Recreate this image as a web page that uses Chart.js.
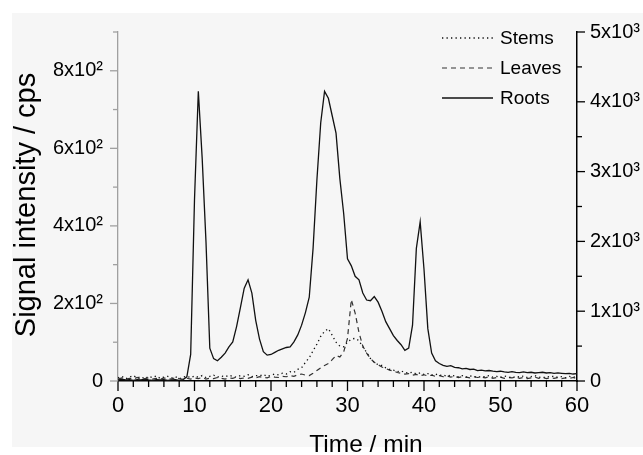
<!DOCTYPE html>
<html><head><meta charset="utf-8">
<script src="https://cdn.jsdelivr.net/npm/chart.js@4/dist/chart.umd.min.js"></script>
<style>html,body{margin:0;padding:0;background:#fff}canvas{display:block}</style>
</head><body>
<canvas id="c" width="643" height="455"></canvas>
<script>
// ---- data (time in min; Stems/Leaves on left axis, Roots on right axis) ----
const time = [0,0.5,1,1.5,2,2.5,3,3.5,4,4.5,5,5.5,6,6.5,7,7.5,8,8.5,9,9.5,
10,10.5,11,11.5,12,12.5,13,13.5,14,14.5,15,15.5,16,16.5,17,17.5,18,18.5,19,19.5,
20,20.5,21,21.5,22,22.5,23,23.5,24,24.5,25,25.5,26,26.5,27,27.5,28,28.5,29,29.5,
30,30.5,31,31.5,32,32.5,33,33.5,34,34.5,35,35.5,36,36.5,37,37.5,38,38.5,39,39.5,
40,40.5,41,41.5,42,42.5,43,43.5,44,44.5,45,45.5,46,46.5,47,47.5,48,48.5,49,49.5,
50,50.5,51,51.5,52,52.5,53,53.5,54,54.5,55,55.5,56,56.5,57,57.5,58,58.5,59,59.5,60];

const stems = [8,12,6,10,14,8,11,6,12,9,
13,7,10,12,8,11,6,10,12,9,
13,10,14,9,12,15,10,13,11,15,
12,10,14,12,16,11,14,13,17,12,
15,18,16,20,18,24,22,30,34,48,
60,78,95,115,128,135,118,100,90,88,
100,108,110,104,88,74,58,48,42,40,
34,30,28,24,26,22,20,23,18,21,
17,19,15,18,14,16,12,15,13,11,
14,10,13,12,9,12,11,14,10,12,
9,13,11,8,12,10,13,9,11,14,
10,8,12,10,13,9,11,8,12,10,11];

const leaves = [5,8,4,7,5,9,4,6,8,5,
7,4,8,6,5,9,6,4,7,5,
8,6,9,5,7,6,9,7,5,8,
7,10,6,8,7,10,8,11,9,8,
12,10,9,12,11,14,12,16,18,15,
14,20,27,34,40,45,55,66,62,75,
110,210,175,125,90,72,58,48,42,36,
32,28,26,22,20,18,19,15,17,14,
16,13,15,12,14,11,13,10,12,9,
11,10,8,11,9,10,8,11,7,9,
10,7,9,8,10,7,9,6,8,10,
7,9,6,8,7,9,6,8,7,9,6];

const roots = [20,25,15,20,10,20,15,25,15,10,
20,15,20,10,15,20,10,20,60,380,
2600,4150,3200,2000,470,320,290,340,400,490,
560,780,1050,1330,1450,1260,870,600,420,370,
380,410,440,460,480,490,560,660,800,980,
1200,1900,2880,3700,4150,4050,3800,3550,2900,2400,
1750,1650,1500,1450,1260,1160,1150,1210,1130,1000,
850,750,650,580,520,440,470,800,1900,2280,
1600,750,400,290,250,225,210,220,195,190,
175,180,165,170,150,155,145,150,140,135,
140,130,125,135,125,120,130,120,125,115,
120,125,115,120,110,115,110,105,110,100,105];

const seriesLabels = ['Stems','Leaves','Roots'];
const xTickValues = [0,10,20,30,40,50,60];
const leftTickValues = [0,200,400,600,800];
const rightTickValues = [0,1000,2000,3000,4000,5000];
const xTitle = 'Time / min';
const yTitle = 'Signal intensity / cps';

const FONT = "'Liberation Sans', Arial, sans-serif";

function pts(vals){ return time.map((t,i)=>({x:t,y:vals[i]})); }

const bgPlugin = {
  id:'bg',
  beforeDraw(chart){
    const c = chart.ctx; c.save();
    c.fillStyle = '#ffffff'; c.fillRect(0,0,chart.width,chart.height);
    c.fillStyle = '#f6f6f6'; c.fillRect(12,13,chart.width-12,chart.height-21);
    c.restore();
  }
};

const tickPlugin = {
  id:'tickmarks',
  afterDraw(chart){
    const {ctx, scales:{x,y,y2}} = chart;
    ctx.save();
    ctx.lineWidth = 1.3;
    ctx.strokeStyle = '#000';
    for (let t = x.min; t <= x.max; t += 2) {
      const px = x.getPixelForValue(t);
      const len = xTickValues.includes(t) ? 10 : 6;
      ctx.beginPath(); ctx.moveTo(px, x.top); ctx.lineTo(px, x.top + len); ctx.stroke();
    }
    ctx.strokeStyle = '#a0a0a0';
    for (let v = y.min; v <= y.max; v += 100) {
      const py = y.getPixelForValue(v);
      const len = leftTickValues.includes(v) ? 8 : 5;
      ctx.beginPath(); ctx.moveTo(y.right, py); ctx.lineTo(y.right - len, py); ctx.stroke();
    }
    ctx.strokeStyle = '#000';
    for (let v = y2.min; v <= y2.max; v += 500) {
      const py = y2.getPixelForValue(v);
      const len = rightTickValues.includes(v) ? 8 : 5;
      ctx.beginPath(); ctx.moveTo(y2.left, py); ctx.lineTo(y2.left + len, py); ctx.stroke();
    }
    ctx.restore();
  }
};

const titlePlugin = {
  id:'titles',
  afterDraw(chart){
    const ctx = chart.ctx; ctx.save();
    ctx.fillStyle = '#000';
    ctx.font = `24.5px ${FONT}`;
    ctx.textAlign = 'center'; ctx.textBaseline = 'alphabetic';
    ctx.fillText(xTitle, 366, 452);
    ctx.translate(35, 205); ctx.rotate(-Math.PI/2);
    ctx.font = `29px ${FONT}`;
    ctx.fillText(yTitle, 0, 0);
    ctx.restore();
  }
};

const legendPlugin = {
  id:'customLegend',
  afterDraw(chart){
    const ctx = chart.ctx; ctx.save();
    chart.data.datasets.forEach((ds,i)=>{
      const yy = 38 + i*30;
      ctx.strokeStyle = ds.borderColor; ctx.lineWidth = ds.borderWidth;
      ctx.setLineDash(ds.borderDash || []);
      ctx.beginPath(); ctx.moveTo(442, yy); ctx.lineTo(493, yy); ctx.stroke();
      ctx.setLineDash([]);
      ctx.fillStyle = '#000'; ctx.font = `19px ${FONT}`;
      ctx.textAlign = 'left'; ctx.textBaseline = 'middle';
      ctx.fillText(ds.label, 500, yy + 1);
    });
    ctx.restore();
  }
};

new Chart(document.getElementById('c'), {
  type:'line',
  data:{
    datasets:[
      {label:seriesLabels[0], data:pts(stems), yAxisID:'y', borderColor:'#111', borderWidth:1.3, borderDash:[1.3,3.2], pointRadius:0, fill:false},
      {label:seriesLabels[1], data:pts(leaves), yAxisID:'y', borderColor:'#333', borderWidth:1.2, borderDash:[5,4], pointRadius:0, fill:false},
      {label:seriesLabels[2], data:pts(roots), yAxisID:'y2', borderColor:'#111', borderWidth:1.3, pointRadius:0, fill:false}
    ]
  },
  options:{
    responsive:false, animation:false, devicePixelRatio:1,
    layout:{padding:{top:32,left:0,right:0,bottom:0}},
    plugins:{legend:{display:false}, tooltip:{enabled:false}},
    elements:{line:{tension:0}, point:{radius:0}},
    scales:{
      x:{type:'linear', position:'bottom', min:0, max:60,
         afterFit(s){ s.height = 74; },
         afterBuildTicks(s){ s.ticks = xTickValues.map(v=>({value:v})); },
         ticks:{font:{family:FONT,size:22}, color:'#000', padding:12, maxRotation:0, autoSkip:false},
         grid:{display:false, drawTicks:false},
         border:{display:true, color:'#000', width:1.5}},
      y:{type:'linear', position:'left', min:0, max:900,
         afterFit(s){ s.width = 118; },
         afterBuildTicks(s){ s.ticks = leftTickValues.map(v=>({value:v})); },
         ticks:{font:{family:FONT,size:20}, color:'#000', padding:15,
                callback:v => v===0 ? '0' : (v/100)+'x10\u00B2'},
         grid:{display:false, drawTicks:false},
         border:{display:true, color:'#a0a0a0', width:1.3}},
      y2:{type:'linear', position:'right', min:0, max:5000,
         afterFit(s){ s.width = 66; },
         afterBuildTicks(s){ s.ticks = rightTickValues.map(v=>({value:v})); },
         ticks:{font:{family:FONT,size:20}, color:'#000', padding:13,
                callback:v => v===0 ? '0' : (v/1000)+'x10\u00B3'},
         grid:{display:false, drawTicks:false},
         border:{display:true, color:'#000', width:1.5}}
    }
  },
  plugins:[bgPlugin, tickPlugin, titlePlugin, legendPlugin]
});
</script>
</body></html>
